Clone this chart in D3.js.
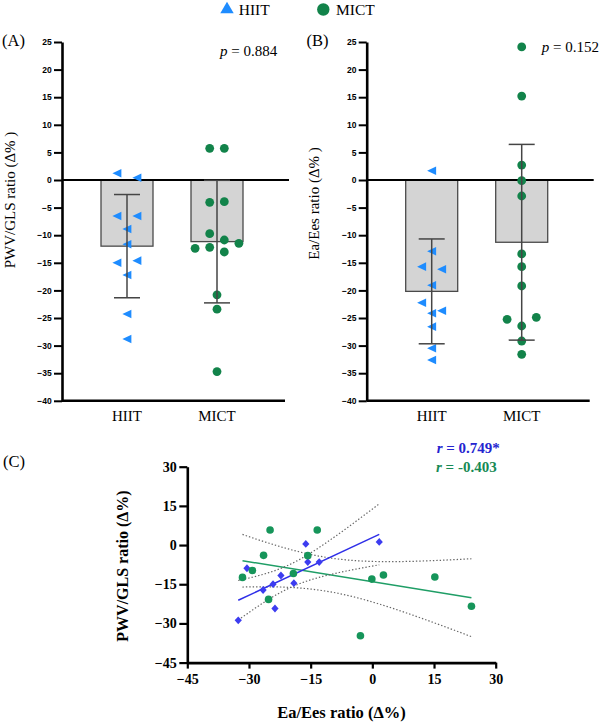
<!DOCTYPE html>
<html><head><meta charset="utf-8">
<script src="https://cdn.jsdelivr.net/npm/d3@7/dist/d3.min.js"></script>
<style>body{margin:0;background:#fff}</style>
</head><body>
<svg id="chart" width="600" height="723"></svg>
<script>
// ---------- data ----------
const groups = ["HIIT", "MICT"];
// paired per participant: PWV/GLS ratio change (%) and Ea/Ees ratio change (%)
const hiitPWV = [1.21, -6.52, 0.42, -6.52, -8.88, -11.65, -14.98, -14.61, -17.21, -24.28, -28.80];
const hiitEa  = [1.68, -15.70, -16.18, -12.92, -30.49, -22.23, -24.15, -19.08, -26.57, -23.68, -32.61];
const mictPWV = [5.74, -4.05, -9.72, -10.87, -12.38, -12.20, -13.04, -11.47, -20.80, -3.93, 5.74, -23.40, -34.70];
const mictEa  = [-13.40, -15.70, -29.17, -19.20, -31.58, 15.20, -0.12, 2.70, -25.24, -26.45, -24.87, 24.10, -2.90];
const barTicks = [-40, -35, -30, -25, -20, -15, -10, -5, 0, 5, 10, 15, 20, 25];
const scatterTicks = [-45, -30, -15, 0, 15, 30];
const pLabels = ["0.884", "0.152"];
const rLabels = ["0.749*", "-0.403"];
const tCrit = {9: 2.262, 11: 2.201};

// ---------- styles ----------
const SERIF = "'Liberation Serif','Times New Roman',serif";
const SANS = "'Liberation Sans',Arial,sans-serif";
const triBlue = "#1e8cff", circGreen = "#12834a";
const scBlue = "#3c3cf0", scGreen = "#16955a";

const svg = d3.select("#chart");

// ---------- helpers ----------
function mean(a){ return d3.mean(a); }
function sd(a){ return d3.deviation(a); }
function swarm(values, yScale, cx, spacing, rowH){
  const idx = values.map((v,i)=>i).sort((a,b)=>values[b]-values[a]);
  const rows = []; let cur = null;
  idx.forEach(i=>{
    const py = yScale(values[i]);
    if (cur && py - cur.start < rowH) cur.items.push(i);
    else { cur = {start: py, items: [i]}; rows.push(cur); }
  });
  const off = new Array(values.length);
  rows.forEach(r=>{
    r.items.sort((a,b)=>a-b);
    const n = r.items.length;
    r.items.forEach((i,k)=>{ off[i] = (k-(n-1)/2)*spacing; });
  });
  return values.map((v,i)=>({x: cx+off[i], y: yScale(v)}));
}
const triLeft = "M-4.6,0L4.4,-4.3L4.4,4.3Z";

function barPanel(opts){
  const {x0, label, labelY, dataH, dataM, pText, pX, pY, yTitle, yTitleY} = opts;
  const y = d3.scaleLinear().domain([-40, 25]).range([400.8, 42]);
  const x = d3.scaleBand().domain(groups).range([x0, x0+220]).paddingInner(0.4222).paddingOuter(0.4333);
  const g = svg.append("g");
  const sets = [dataH, dataM];
  // bars
  groups.forEach((grp, gi)=>{
    const m = mean(sets[gi]);
    g.append("rect").attr("x", x(grp)).attr("width", x.bandwidth())
      .attr("y", y(0)).attr("height", y(m)-y(0))
      .attr("fill", "#d4d4d4").attr("stroke", "#4a4a4a").attr("stroke-width", 1.3);
  });
  // zero line
  g.append("line").attr("x1", x0).attr("x2", x0+227).attr("y1", y(0)).attr("y2", y(0))
    .attr("stroke", "#000").attr("stroke-width", 2.2);
  // points
  const cH = x("HIIT")+x.bandwidth()/2, cM = x("MICT")+x.bandwidth()/2;
  swarm(dataH, y, cH, 20, 9.2).forEach(p=>{
    g.append("path").attr("d", triLeft).attr("transform", `translate(${p.x},${p.y})`).attr("fill", triBlue);
  });
  swarm(dataM, y, cM, 14.6, 9.2).forEach(p=>{
    g.append("circle").attr("cx", p.x).attr("cy", p.y).attr("r", 4.4).attr("fill", circGreen);
  });
  // error bars (mean ± SD)
  groups.forEach((grp, gi)=>{
    const m = mean(sets[gi]), s = sd(sets[gi]);
    const cx = x(grp)+x.bandwidth()/2;
    const eg = g.append("g").attr("stroke", "#454545").attr("stroke-width", 1.5);
    eg.append("line").attr("x1", cx).attr("x2", cx).attr("y1", y(m+s)).attr("y2", y(m-s));
    [m+s, m-s].forEach(v=>eg.append("line").attr("x1", cx-13).attr("x2", cx+13).attr("y1", y(v)).attr("y2", y(v)));
  });
  // y axis
  const ya = g.append("g").attr("transform", `translate(${x0},0)`)
    .call(d3.axisLeft(y).tickValues(barTicks).tickSize(8).tickSizeOuter(0).tickPadding(2.3).tickFormat(d3.format("d")));
  ya.select(".domain").attr("stroke-width", 2.6);
  ya.selectAll(".tick line").attr("stroke-width", 2);
  ya.selectAll("text").attr("font-family", SANS).attr("font-weight", "bold").attr("font-size", 8.5).attr("fill", "#000");
  // x axis line
  g.append("line").attr("x1", x0).attr("x2", x0+223).attr("y1", y(-40)).attr("y2", y(-40))
    .attr("stroke", "#000").attr("stroke-width", 2.4);
  groups.forEach(grp=>{
    g.append("text").attr("x", x(grp)+x.bandwidth()/2).attr("y", 421).attr("text-anchor", "middle")
      .attr("font-family", SERIF).attr("font-size", 15).text(grp);
  });
  // y title
  g.append("text").attr("transform", `translate(${x0-47.5},${yTitleY}) rotate(-90)`).attr("text-anchor", "middle")
    .attr("font-family", SERIF).attr("font-size", 15).text(yTitle);
  // panel label
  g.append("text").attr("x", label[1]).attr("y", labelY).attr("font-family", SERIF).attr("font-size", 16.5).text(label[0]);
  // p value
  const pt = g.append("text").attr("x", pX).attr("y", pY).attr("font-family", SERIF).attr("font-size", 15);
  pt.append("tspan").attr("font-style", "italic").text("p");
  pt.append("tspan").text(" = " + pText);
}

barPanel({x0: 62, label: ["(A)", 2], labelY: 46, dataH: hiitPWV, dataM: mictPWV, pText: pLabels[0], pX: 220, pY: 55.5,
  yTitle: "PWV/GLS ratio (Δ% )", yTitleY: 200});
barPanel({x0: 366.7, label: ["(B)", 306.5], labelY: 46, dataH: hiitEa, dataM: mictEa, pText: pLabels[1], pX: 541.7, pY: 52.3,
  yTitle: "Ea/Ees ratio (Δ% )", yTitleY: 203.5});

// ---------- legend ----------
svg.append("path").attr("d", d3.symbol(d3.symbolTriangle, 78)()).attr("transform", "translate(227,9.5)").attr("fill", triBlue);
svg.append("text").attr("x", 238.7).attr("y", 14.5).attr("font-family", SERIF).attr("font-size", 15.5).text("HIIT");
svg.append("circle").attr("cx", 323.3).attr("cy", 9.5).attr("r", 6.2).attr("fill", circGreen);
svg.append("text").attr("x", 336).attr("y", 15).attr("font-family", SERIF).attr("font-size", 15.5).text("MICT");

// ---------- panel C ----------
const xs = d3.scaleLinear().domain([-45, 30]).range([187.3, 495.7]);
const ys = d3.scaleLinear().domain([-45, 30]).range([662.6, 466.7]);
const gc = svg.append("g");

function fit(xv, yv){
  const n = xv.length, mx = d3.mean(xv), my = d3.mean(yv);
  let sxx=0, sxy=0, syy=0;
  xv.forEach((x,i)=>{ sxx += (x-mx)**2; sxy += (x-mx)*(yv[i]-my); syy += (yv[i]-my)**2; });
  const b = sxy/sxx, a = my - b*mx;
  const s = Math.sqrt((syy - b*sxy)/(n-2));
  return {n, mx, sxx, a, b, s, t: tCrit[n-2], r: sxy/Math.sqrt(sxx*syy)};
}
function drawFit(xv, yv, color){
  const f = fit(xv, yv);
  const [lo, hi] = d3.extent(xv);
  const pts = d3.range(0, 61).map(k=>lo + (hi-lo)*k/60);
  const ci = x => f.t*f.s*Math.sqrt(1/f.n + (x-f.mx)**2/f.sxx);
  const line = d3.line().x(d=>xs(d[0])).y(d=>ys(d[1]));
  [1, -1].forEach(sg=>{
    gc.append("path").attr("d", line(pts.map(x=>[x, f.a+f.b*x + sg*ci(x)])))
      .attr("fill", "none").attr("stroke", "#666").attr("stroke-width", 1.2).attr("stroke-dasharray", "1.4,2");
  });
  gc.append("path").attr("d", line([[lo, f.a+f.b*lo],[hi, f.a+f.b*hi]]))
    .attr("fill", "none").attr("stroke", color).attr("stroke-width", 1.5);
}
drawFit(mictEa, mictPWV, "#1f9e66");
drawFit(hiitEa, hiitPWV, "#2f2fe8");

const diamond = "M0,-3.9L3.6,0L0,3.9L-3.6,0Z";
hiitEa.forEach((v,i)=>{
  gc.append("path").attr("d", diamond).attr("transform", `translate(${xs(v)},${ys(hiitPWV[i])})`).attr("fill", scBlue);
});
mictEa.forEach((v,i)=>{
  gc.append("circle").attr("cx", xs(v)).attr("cy", ys(mictPWV[i])).attr("r", 3.8).attr("fill", scGreen);
});

const yax = gc.append("g").attr("transform", `translate(${xs(-45)},0)`)
  .call(d3.axisLeft(ys).tickValues(scatterTicks).tickSize(8).tickSizeOuter(0).tickPadding(2.6).tickFormat(d3.format("d")));
const xax = gc.append("g").attr("transform", `translate(0,${ys(-45)})`)
  .call(d3.axisBottom(xs).tickValues(scatterTicks).tickSize(6).tickSizeOuter(0).tickPadding(5.5).tickFormat(d3.format("d")));
[yax, xax].forEach(ax=>{
  ax.select(".domain").attr("stroke-width", 2.6);
  ax.selectAll(".tick line").attr("stroke-width", 2.2);
  ax.selectAll("text").attr("font-family", SERIF).attr("font-weight", "bold").attr("font-size", 14).attr("fill", "#000");
});

gc.append("text").attr("transform", `translate(128,566) rotate(-90)`).attr("text-anchor", "middle")
  .attr("font-family", SERIF).attr("font-weight", "bold").attr("font-size", 16).text("PWV/GLS ratio (Δ%)");
gc.append("text").attr("x", 341.5).attr("y", 718).attr("text-anchor", "middle")
  .attr("font-family", SERIF).attr("font-weight", "bold").attr("font-size", 16.5).text("Ea/Ees ratio (Δ%)");
gc.append("text").attr("x", 3).attr("y", 467).attr("font-family", SERIF).attr("font-size", 16.5).text("(C)");

const r1 = gc.append("text").attr("x", 436.7).attr("y", 453.3).attr("font-family", SERIF).attr("font-weight", "bold")
  .attr("font-size", 15).attr("fill", "#2424d0");
r1.append("tspan").attr("font-style", "italic").text("r");
r1.append("tspan").text(" = " + rLabels[0]);
const r2 = gc.append("text").attr("x", 436).attr("y", 471.7).attr("font-family", SERIF).attr("font-weight", "bold")
  .attr("font-size", 15).attr("fill", "#178a55");
r2.append("tspan").attr("font-style", "italic").text("r");
r2.append("tspan").text(" = " + rLabels[1]);
</script>
</body></html>
